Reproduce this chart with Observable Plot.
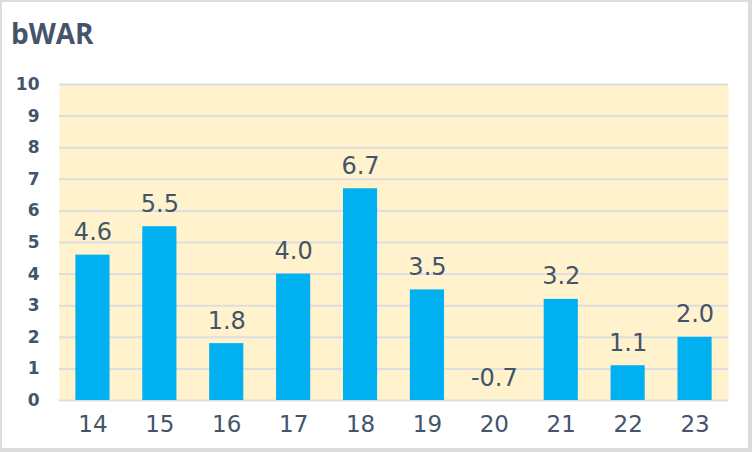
<!DOCTYPE html>
<html><head><meta charset="utf-8">
<script src="https://cdn.jsdelivr.net/npm/d3@7"></script>
<script src="https://cdn.jsdelivr.net/npm/@observablehq/plot@0.6"></script>
<style>
html,body{margin:0;padding:0;background:#fff;}
#wrap{width:752px;height:452px;box-sizing:border-box;border:2px solid #dcdcdc;border-right-width:4px;border-bottom-width:4px;position:relative;overflow:hidden;font-family:"Open Sans","Noto Sans",sans-serif;}
#title{position:absolute;left:9px;top:17px;font-size:28px;font-weight:700;color:#44546A;line-height:1;}
#chart{position:absolute;left:0;top:58px;}
</style></head><body>
<div id="wrap"><div id="title">bWAR</div><div id="chart"></div></div>
<script>
const seasons = ["14","15","16","17","18","19","20","21","22","23"];
const bwar = [4.6, 5.5, 1.8, 4.0, 6.7, 3.5, -0.7, 3.2, 1.1, 2.0];
const yTicks = [0,1,2,3,4,5,6,7,8,9,10];

const data = seasons.map((s,i)=>({season:s, v:bwar[i], lv:Math.max(bwar[i],0)}));
const ink = "#44546A";
const numFont = '"DejaVu Sans",sans-serif';
const plot = Plot.plot({
  width: 746, height: 390,
  marginLeft: 57, marginRight: 20, marginTop: 24, marginBottom: 50,
  style: {fontFamily: numFont, color: ink, background: "transparent", overflow: "visible"},
  x: {domain: seasons, paddingInner: 0.49, paddingOuter: 0.245, round: false, label: null},
  y: {domain: [0,10], ticks: yTicks, label: null},
  marks: [
    Plot.frame({fill: "#FFF2CC", stroke: null}),
    Plot.ruleY(yTicks, {stroke: "#dedede", strokeWidth: 2}),
    Plot.barY(data, {x: "season", y: d => Math.max(d.v, 0), fill: "#00B0F0"}),
    Plot.text(data, {x: "season", y: "lv", text: d => d.v.toFixed(1), lineAnchor: "bottom", dy: -15, fontSize: 24, fill: ink}),
    Plot.axisX({tickSize: 0, tickPadding: 15, fontSize: 23, fill: ink}),
    Plot.axisY({ticks: yTicks, tickSize: 0, tickPadding: 20, fontSize: 17, fontWeight: 700, fill: ink})
  ]
});
document.getElementById("chart").appendChild(plot);
</script>
</body></html>
